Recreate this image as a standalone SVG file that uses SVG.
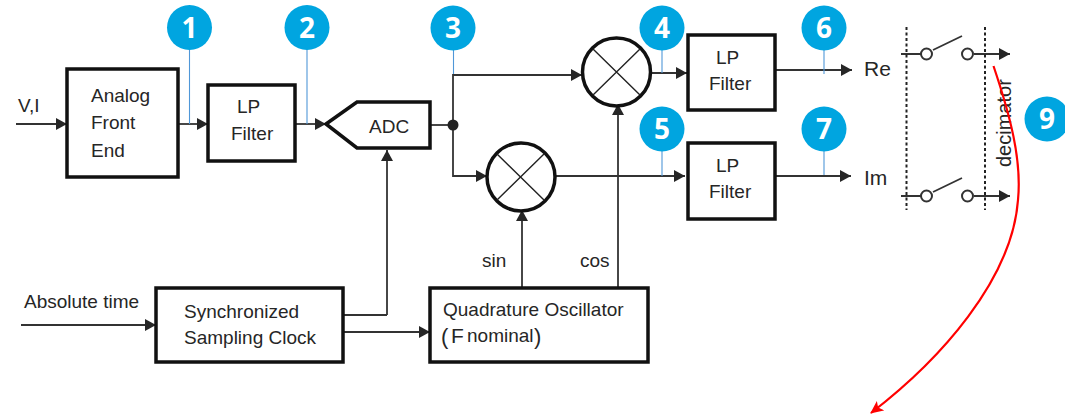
<svg xmlns="http://www.w3.org/2000/svg" width="1065" height="420" viewBox="0 0 1065 420">
<defs>
<marker id="a" markerUnits="userSpaceOnUse" markerWidth="12" markerHeight="12" refX="11" refY="6" orient="auto"><path d="M0 0L11 6L0 12Z" fill="#262626"/></marker>
<marker id="r" markerUnits="userSpaceOnUse" markerWidth="14" markerHeight="14" refX="12" refY="7" orient="auto"><path d="M0 1L13 7L0 13L3 7Z" fill="#f00"/></marker>
</defs>
<style>
text{font-family:"Liberation Sans",Arial,sans-serif;fill:#262626;font-size:19px}
.b{fill:#fff;stroke:#111;stroke-width:3.5}
.c{fill:none;stroke:#333;stroke-width:1.8}
.ca{fill:none;stroke:#333;stroke-width:1.8;marker-end:url(#a)}
.m{fill:#fff;stroke:#111;stroke-width:3.5}
.x{stroke:#222;stroke-width:1.4}
.lead{stroke:#4f97d8;stroke-width:1.1}
.badge circle{fill:#00a5e0}
.badge text{fill:#fff;font-size:28px;font-weight:bold;text-anchor:middle;font-family:"Open Sans","Liberation Sans",sans-serif}
.d{stroke:#222;stroke-width:2;stroke-dasharray:3 2.5}
.o{fill:#fff;stroke:#333;stroke-width:2}
</style>
<g id="connectors">
<path class="ca" d="M16 124H67"/>
<path class="ca" d="M178 124H208"/>
<path class="ca" d="M295 124H326"/>
<path class="c" d="M430 125H453"/>
<path class="ca" d="M453 125V75H582"/>
<path class="ca" d="M453 125V176H487"/>
<path class="ca" d="M651 73H687"/>
<path class="ca" d="M555 176H685"/>
<path class="ca" d="M775 70H852"/>
<path class="ca" d="M775 176H851"/>
<path class="ca" d="M21 325H156"/>
<path class="c" d="M341 315H387"/>
<path class="ca" d="M387 315V150"/>
<path class="ca" d="M341 332H430"/>
<path class="ca" d="M522 288V210"/>
<path class="ca" d="M618 288V104"/>
<path class="c" d="M901 54H921M933 50L962 36"/>
<path class="ca" d="M974 54H1010"/>
<path class="c" d="M901 196H921M933 192L962 178"/>
<path class="ca" d="M974 196H1010"/>
<circle cx="453" cy="125" r="5.5" fill="#222"/>
<line class="lead" x1="189.500" y1="48" x2="189.500" y2="124"/>
<line class="lead" x1="307" y1="48" x2="307" y2="124"/>
<line class="lead" x1="453.500" y1="48" x2="453.500" y2="74"/>
<line class="lead" x1="662" y1="48" x2="662" y2="73"/>
<line class="lead" x1="662" y1="149" x2="662" y2="176"/>
<line class="lead" x1="824" y1="48" x2="824" y2="74"/>
<line class="lead" x1="824" y1="149" x2="824" y2="175"/>
<line class="d" x1="906.500" y1="27" x2="906.500" y2="210"/>
<line class="d" x1="985" y1="27" x2="985" y2="210"/>
</g>
<g id="afe"><rect class="b" x="67" y="69" width="111" height="108"/><text x="91" y="102">Analog</text><text x="91" y="129">Front</text><text x="91" y="157">End</text></g>
<g id="lp1"><rect class="b" x="208" y="85" width="87" height="76"/><text x="237" y="113">LP</text><text x="231" y="140">Filter</text></g>
<g id="adc"><path class="b" d="M326 124L357 102H430V148H357Z"/><text x="369" y="133">ADC</text></g>
<g id="mixer1"><circle class="m" cx="616.500" cy="72" r="34"/><path class="x" d="M593 49L640 95M640 49L593 95"/></g>
<g id="mixer2"><circle class="m" cx="521" cy="177" r="34"/><path class="x" d="M497 154L544 200M544 154L497 200"/></g>
<g id="lp2"><rect class="b" x="688" y="35" width="87" height="75"/><text x="716" y="64">LP</text><text x="709" y="90">Filter</text></g>
<g id="lp3"><rect class="b" x="688" y="143" width="87" height="76"/><text x="716" y="172">LP</text><text x="709" y="198">Filter</text></g>
<g id="clock"><rect class="b" x="156" y="288" width="187" height="74"/><text x="184" y="318">Synchronized</text><text x="184" y="344">Sampling Clock</text></g>
<g id="oscillator"><rect class="b" x="430" y="288" width="218" height="74"/><text x="443" y="316">Quadrature Oscillator</text><text x="441" y="344" style="font-size:22px">(</text><text x="451" y="343" style="font-size:21px">F</text><text x="467" y="342">nominal</text><text x="534" y="344" style="font-size:22px">)</text></g>
<g id="labels">
<text x="18" y="112">V,I</text>
<text x="24" y="308">Absolute time</text>
<text x="482" y="267">sin</text>
<text x="580" y="267">cos</text>
<text x="864" y="76" style="font-size:21px">Re</text>
<text x="864" y="185" style="font-size:21px">Im</text>
<text transform="translate(1011 167) rotate(-90)" style="font-size:20px">decimator</text>
</g>
<g id="switches"><circle class="o" cx="926.500" cy="54" r="5.500"/><circle class="o" cx="967.500" cy="54" r="5.500"/><circle class="o" cx="926.500" cy="196" r="5.500"/><circle class="o" cx="967.500" cy="196" r="5.500"/></g>
<g id="badge1" class="badge"><circle cx="189.500" cy="27.500" r="22.500"/><text x="189.500" y="38">1</text></g>
<g id="badge2" class="badge"><circle cx="307" cy="27.500" r="22.500"/><text x="307" y="38">2</text></g>
<g id="badge3" class="badge"><circle cx="453" cy="28" r="22.500"/><text x="453" y="38">3</text></g>
<g id="badge4" class="badge"><circle cx="662" cy="28" r="22.500"/><text x="662" y="38">4</text></g>
<g id="badge5" class="badge"><circle cx="662" cy="129" r="22.500"/><text x="662" y="139">5</text></g>
<g id="badge6" class="badge"><circle cx="824" cy="28" r="22.500"/><text x="824" y="38">6</text></g>
<g id="badge7" class="badge"><circle cx="824" cy="129" r="22.500"/><text x="824" y="139">7</text></g>
<g id="badge9" class="badge"><circle cx="1047" cy="119" r="22.500"/><text x="1047" y="129">9</text></g>
<path id="red-arrow" d="M993.500 66C1010 115 1022 160 1018 200C1012 280 940 360 871 413" fill="none" stroke="#f00" stroke-width="2.200" marker-end="url(#r)"/>
</svg>
